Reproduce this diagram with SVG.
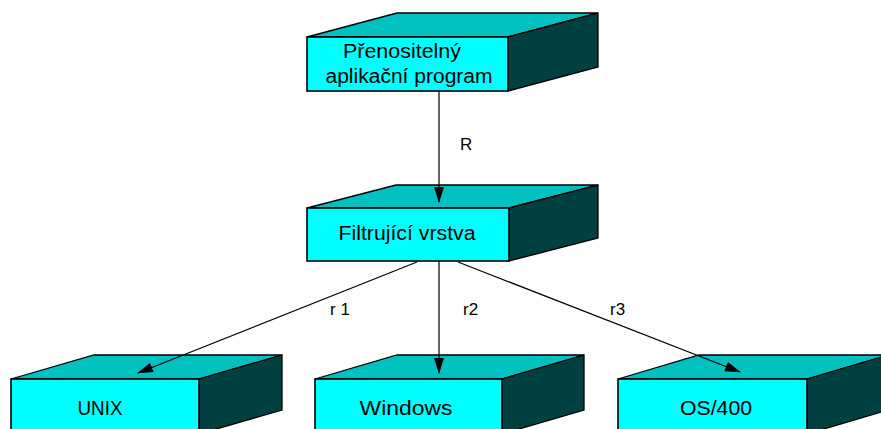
<svg xmlns="http://www.w3.org/2000/svg" width="881" height="429" viewBox="0 0 881 429">
<style>
.top{fill:#00C0C0;stroke:#000;stroke-width:1.3;stroke-linejoin:miter}
.side{fill:#004040;stroke:#000;stroke-width:1.3}
.front{fill:#00FFFF;stroke:#000;stroke-width:1.6}
.t{font-family:"Liberation Sans",Arial,sans-serif;font-size:20px;fill:#000;text-anchor:middle}
.lbl{font-family:"Liberation Sans",Arial,sans-serif;font-size:17px;fill:#000}
.c{stroke:#000;stroke-width:1.2;fill:none;marker-end:url(#ah)}
</style>
<defs>
<marker id="ah" markerUnits="userSpaceOnUse" markerWidth="16" markerHeight="10" viewBox="0 0 16 10" refX="15" refY="5" orient="auto">
<path d="M0,0 L16,5 L0,10 Z" fill="#000"/>
</marker>
</defs>
<rect width="881" height="429" fill="#fff"/>
<g id="node-app">
<polygon class="top" points="307,37 397,13 598,13 508,37"/>
<polygon class="side" points="508,37 598,13 598,67 508,91"/>
<rect class="front" x="307" y="37" width="201" height="54"/>
<text class="t" x="402" y="58" textLength="118" lengthAdjust="spacingAndGlyphs">Přenositelný</text>
<text class="t" x="409" y="83" textLength="167" lengthAdjust="spacingAndGlyphs">aplikační program</text>
</g>
<g id="node-filter">
<polygon class="top" points="307,208 396,185 598,185 509,208"/>
<polygon class="side" points="509,208 598,185 598,238 509,261"/>
<rect class="front" x="307" y="208" width="202" height="53"/>
<text class="t" x="407" y="240" textLength="137" lengthAdjust="spacingAndGlyphs">Filtrující vrstva</text>
</g>
<g id="node-unix">
<polygon class="top" points="11,379 94,355 282,355 199,379"/>
<polygon class="side" points="199,379 282,355 282,410 199,434"/>
<rect class="front" x="11" y="379" width="188" height="55"/>
<text class="t" x="100" y="415" textLength="45" lengthAdjust="spacingAndGlyphs">UNIX</text>
</g>
<g id="node-windows">
<polygon class="top" points="315,379 397,355 584,355 502,379"/>
<polygon class="side" points="502,379 584,355 584,410 502,434"/>
<rect class="front" x="315" y="379" width="187" height="55"/>
<text class="t" x="406" y="415" textLength="93" lengthAdjust="spacingAndGlyphs">Windows</text>
</g>
<g id="node-os400">
<polygon class="top" points="618,379 699,355 888,355 807,379"/>
<polygon class="side" points="807,379 888,355 888,410 807,434"/>
<rect class="front" x="618" y="379" width="189" height="55"/>
<text class="t" x="716" y="415" textLength="72" lengthAdjust="spacingAndGlyphs">OS/400</text>
</g>
<g id="connectors">
<line class="c" x1="439" y1="91" x2="439" y2="202"/>
<line class="c" x1="417" y1="262" x2="138" y2="373"/>
<line class="c" x1="439" y1="261" x2="439" y2="373"/>
<line class="c" x1="458" y1="262" x2="740" y2="372"/>
<text class="lbl" x="460" y="150">R</text>
<text class="lbl" x="330" y="315">r 1</text>
<text class="lbl" x="463" y="315">r2</text>
<text class="lbl" x="610" y="315">r3</text>
</g>
</svg>
